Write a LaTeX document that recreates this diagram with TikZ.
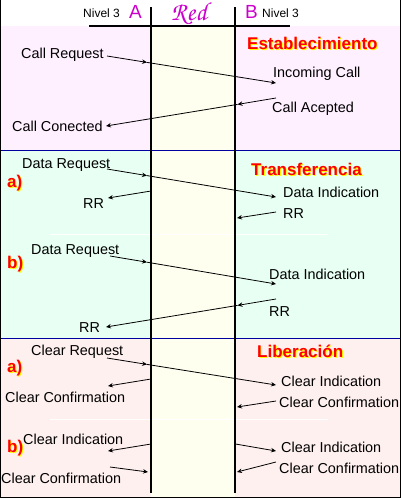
\documentclass[tikz,border=0pt]{standalone}
\usepackage[T1]{fontenc}
\usepackage{fontspec}
\setmainfont{Liberation Sans}
\usetikzlibrary{arrows.meta}
\definecolor{secA}{HTML}{FFF0FF}
\definecolor{secB}{HTML}{E8FFF4}
\definecolor{secC}{HTML}{FFF0F0}
\definecolor{redcol}{HTML}{FFFFF0}
\definecolor{mag}{HTML}{CC00CC}
\definecolor{sepblue}{HTML}{0000A0}
\definecolor{titred}{HTML}{FF0000}
\definecolor{titshadow}{HTML}{FFFF00}
\tikzset{
  lbl/.style={anchor=base west,inner sep=0pt,font=\fontsize{14.4}{17}\selectfont},
  niv/.style={anchor=base west,inner sep=0pt,font=\fontsize{12}{14}\selectfont},
  ab/.style={anchor=base west,inner sep=0pt,text=mag,font=\fontsize{19}{22}\selectfont},
  tit/.style={anchor=base west,inner sep=0pt,text=titred,font=\bfseries\fontsize{17}{20}\selectfont},
  titsh/.style={anchor=base west,inner sep=0pt,text=titshadow,font=\bfseries\fontsize{17}{20}\selectfont},
  msg/.style={draw=black,line width=0.8pt,-{Stealth[length=5pt,width=4.5pt]}},
  lifeline/.style={draw=black,line width=2pt},
}
\newcommand{\shtext}[3]{%
  \node[titsh] at (#1+1,#2+1) {#3};
  \node[tit] at (#1,#2) {#3};}
\begin{document}
\begin{tikzpicture}[x=1pt,y=-1pt]
\useasboundingbox (0,0) rectangle (401,499);
% backgrounds
\fill[white] (0,0) rectangle (401,25.5);
\fill[secA] (0,25.5) rectangle (401,150.5);
\fill[secB] (0,150.5) rectangle (401,338.5);
\fill[secC] (0,338.5) rectangle (401,498);
\fill[redcol] (151.3,25.5) rectangle (234.5,498);
% separators
\draw[sepblue,line width=1pt] (0,150.5) -- (401,150.5);
\draw[sepblue,line width=1pt] (0,338.5) -- (401,338.5);
\draw[white,line width=1pt] (50,234) -- (328,234);
\draw[white,line width=1pt] (50,419) -- (328,419);
% outer frame
\draw[black,line width=1pt] (0.5,0) -- (0.5,497.5) -- (400.5,497.5) -- (400.5,0);
% header
\draw[black,line width=2pt] (89,25.5) -- (290,25.5);
\node[niv] (n3a) at (83,17) {Nivel 3};
\node[ab] (la) at (129,18) {A};
\node[anchor=base,inner sep=0pt,text=mag,draw=none] (red) at (189,20.5)
  {\fontencoding{T1}\fontfamily{pzc}\fontseries{mb}\fontshape{it}\fontsize{26}{28}\selectfont Red};
\node[ab] (lb) at (245,18) {B};
\node[niv] (n3b) at (262,17) {Nivel 3};
% lifelines
\coordinate (At) at (151.3,7);
\coordinate (Ab) at (151.3,493);
\coordinate (Bt) at (234.5,7);
\coordinate (Bb) at (234.5,493);
\draw[lifeline] (At) -- (Ab);
\draw[lifeline] (Bt) -- (Bb);
% titles
\shtext{247}{49}{Establecimiento}
\shtext{251}{175}{Transferencia}
\shtext{257}{357}{Liberación}
\shtext{7}{187}{a)}
\shtext{7}{268}{b)}
\shtext{7}{372}{a)}
\shtext{7}{452}{b)}
% ---- Establecimiento
\node[lbl] (t1) at (21,58) {Call Request};
\node[lbl] (t2) at (273,77) {Incoming Call};
\node[lbl] (t3) at (272,112) {Call Acepted};
\node[lbl] (t4) at (12,131) {Call Conected};
\coordinate (s1) at (107,56); \coordinate (m1) at (147,62.4); \coordinate (e1) at (276,83);
\draw[msg] (s1) -- (m1); \draw[msg] (m1) -- (e1);
\coordinate (s2) at (276,98); \coordinate (m2) at (237.5,104.4); \coordinate (e2) at (106,126);
\draw[msg] (s2) -- (m2); \draw[msg] (m2) -- (e2);
% ---- Transferencia a
\node[lbl] (t5) at (22,168) {Data Request};
\node[lbl] (t6) at (283,197) {Data Indication};
\node[lbl] (t7) at (83,208) {RR};
\node[lbl] (t8) at (283,218) {RR};
\coordinate (s3) at (107,169); \coordinate (m3) at (147,175.6); \coordinate (e3) at (276,197);
\draw[msg] (s3) -- (m3); \draw[msg] (m3) -- (e3);
\coordinate (s4) at (151,191); \coordinate (e4) at (108,198);
\draw[msg] (s4) -- (e4);
\coordinate (s5) at (276,212); \coordinate (e5) at (237,218);
\draw[msg] (s5) -- (e5);
% ---- Transferencia b
\node[lbl] (t9) at (31,254) {Data Request};
\node[lbl] (t10) at (269,279) {Data Indication};
\node[lbl] (t11) at (269,316) {RR};
\node[lbl] (t12) at (79,332) {RR};
\coordinate (s6) at (110,256); \coordinate (m6) at (147,262.2); \coordinate (e6) at (276,284);
\draw[msg] (s6) -- (m6); \draw[msg] (m6) -- (e6);
\coordinate (s7) at (276,299); \coordinate (m7) at (237.5,305.4); \coordinate (e7) at (106,327);
\draw[msg] (s7) -- (m7); \draw[msg] (m7) -- (e7);
% ---- Liberacion a
\node[lbl] (t13) at (31,355) {Clear Request};
\node[lbl] (t14) at (281,386) {Clear Indication};
\node[lbl] (t15) at (5,402) {Clear Confirmation};
\node[lbl] (t16) at (279,407) {Clear Confirmation};
\coordinate (s8) at (107,358); \coordinate (m8) at (147,364.4); \coordinate (e8) at (276,385);
\draw[msg] (s8) -- (m8); \draw[msg] (m8) -- (e8);
\coordinate (s9) at (151,379); \coordinate (e9) at (108,386);
\draw[msg] (s9) -- (e9);
\coordinate (s10) at (276,401); \coordinate (e10) at (237,407);
\draw[msg] (s10) -- (e10);
% ---- Liberacion b
\node[lbl] (t17) at (23,444) {Clear Indication};
\node[lbl] (t18) at (281,452) {Clear Indication};
\node[lbl] (t19) at (1,483) {Clear Confirmation};
\node[lbl] (t20) at (279,473) {Clear Confirmation};
\coordinate (s11) at (151,444); \coordinate (e11) at (108,451);
\draw[msg] (s11) -- (e11);
\coordinate (s12) at (110,467); \coordinate (e12) at (148,472);
\draw[msg] (s12) -- (e12);
\coordinate (s13) at (235.5,444); \coordinate (e13) at (276,451);
\draw[msg] (s13) -- (e13);
\coordinate (s14) at (276,462); \coordinate (e14) at (237,472);
\draw[msg] (s14) -- (e14);
\end{tikzpicture}
\end{document}
